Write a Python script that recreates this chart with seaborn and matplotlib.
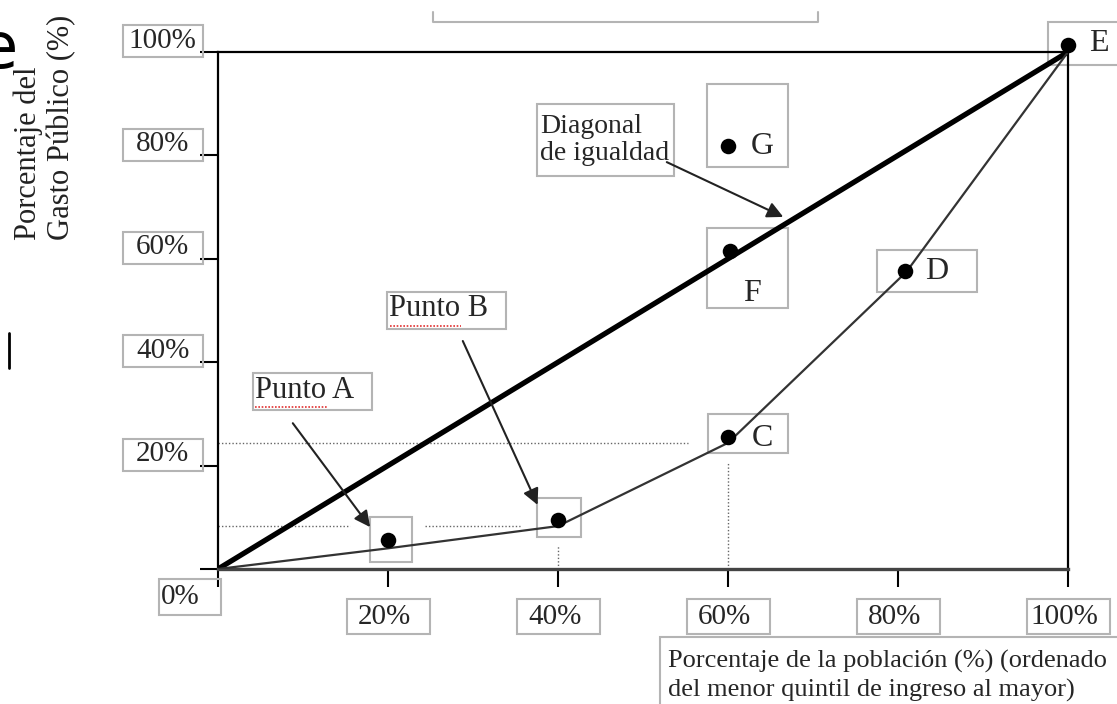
import numpy as np
import seaborn as sns
import matplotlib.pyplot as plt
from matplotlib.patches import Rectangle
from matplotlib.lines import Line2D

# Concentration curve of public spending by income quintile
quintiles = [0.0, 0.2, 0.4, 0.6, 0.81, 1.0]
curve_share = [0.0, 0.04, 0.083, 0.244, 0.575, 1.0]
diag_x = [0.0, 1.0]
diag_y = [0.0, 1.0]

# Marked points
point_names = ["A", "B", "C", "D", "E", "F", "G"]
point_x = [0.20, 0.40, 0.60, 0.808, 1.0, 0.602, 0.60]
point_y = [0.056, 0.095, 0.255, 0.576, 1.013, 0.615, 0.818]

ticks = [0.0, 0.2, 0.4, 0.6, 0.8, 1.0]
tick_labels = ["0%", "20%", "40%", "60%", "80%", "100%"]

xlabel = "Porcentaje de la población (%) (ordenado\ndel menor quintil de ingreso al mayor)"
ylabel = "Porcentaje del\nGasto Público (%)"

sns.set_style("white")
plt.rcParams['font.family'] = ['Liberation Serif', 'DejaVu Serif']

W, H = 1117, 704
fig = plt.figure(figsize=(W / 100, H / 100), dpi=100)
ax = fig.add_axes([218 / W, (H - 569) / H, 850 / W, 517 / H])
ax.set_xlim(0, 1)
ax.set_ylim(0, 1)

box_col = "#b4b4b4"


def box(x0, y0, x1, y1, transform=None):
    r = Rectangle((x0, y0), x1 - x0, y1 - y0, fill=False, ec=box_col, lw=1.5,
                  transform=transform or ax.transData, clip_on=False, zorder=1)
    ax.add_patch(r)


# reference dotted lines
dot_kw = dict(color="#666666", lw=1, ls=(0, (1, 1.5)), zorder=1)
ax.plot([0, 0.553], [curve_share[3]] * 2, **dot_kw)
ax.plot([0, 0.155], [curve_share[2]] * 2, **dot_kw)
ax.plot([0.244, 0.355], [curve_share[2]] * 2, **dot_kw)
ax.plot([quintiles[2]] * 2, [0, 0.044], **dot_kw)
ax.plot([quintiles[3]] * 2, [0, 0.205], **dot_kw)

# lines and points
sns.lineplot(x=diag_x, y=diag_y, ax=ax, color="black", lw=3.8, zorder=3)
sns.lineplot(x=quintiles, y=curve_share, ax=ax, color="#333333", lw=1.6, zorder=3)
sns.scatterplot(x=point_x, y=point_y, ax=ax, color="black", s=125, linewidth=0,
                zorder=5, clip_on=False)

# boxes around points
box(0.179, 0.0135, 0.228, 0.1006)
box(0.375, 0.062, 0.427, 0.137)
box(0.576, 0.224, 0.671, 0.300)
box(0.775, 0.536, 0.893, 0.617)
box(0.976, 0.975, 1.10, 1.058)
box(0.575, 0.505, 0.671, 0.660)
box(0.575, 0.778, 0.671, 0.938)

# point letters
let_kw = dict(fontsize=23, ha="center", va="center", zorder=6)
ax.text(0.640, point_y[2] - 0.002, "C", **let_kw)
ax.text(0.846, point_y[3], "D", **let_kw)
ax.text(1.036, point_y[4] + 0.004, "E", **let_kw, clip_on=False)
ax.text(0.628, 0.532, "F", **let_kw)
ax.text(0.640, point_y[6], "G", **let_kw)

# callouts
box(0.041, 0.308, 0.181, 0.379)
ax.text(0.043, 0.346, "Punto A", fontsize=22, ha="left", va="center")
box(0.199, 0.464, 0.339, 0.536)
ax.text(0.201, 0.503, "Punto B", fontsize=22, ha="left", va="center")
box(0.375, 0.760, 0.536, 0.899)
ax.text(0.379, 0.830, "Diagonal\nde igualdad", fontsize=20, ha="left", va="center",
        linespacing=1.1)
# spell-check squiggles
ax.plot([0.044, 0.128], [0.314, 0.314], color="#e03030", lw=1.2, ls=(0, (1, 1)))
ax.plot([0.202, 0.286], [0.470, 0.470], color="#e03030", lw=1.2, ls=(0, (1, 1)))

arrow_kw = dict(arrowstyle="-|>", color="#222222", lw=1.5, mutation_scale=24,
                shrinkA=0, shrinkB=0)
ax.annotate("", xy=(0.179, 0.081), xytext=(0.088, 0.282), arrowprops=arrow_kw)
ax.annotate("", xy=(0.376, 0.124), xytext=(0.288, 0.441), arrowprops=arrow_kw)
ax.annotate("", xy=(0.665, 0.681), xytext=(0.528, 0.787), arrowprops=arrow_kw)

# axes frame and ticks
for side in ["left", "right", "top"]:
    ax.spines[side].set_color("black")
    ax.spines[side].set_linewidth(1.6)
ax.spines["bottom"].set_color("#444444")
ax.spines["bottom"].set_linewidth(2.4)
ax.set_xticks(ticks)
ax.set_yticks(ticks)
ax.tick_params(direction="out", length=13, width=1.5, color="black",
               labelleft=False, labelbottom=False, left=True, bottom=True)
ax.set_xlabel("")
ax.set_ylabel("")

# tick label boxes
ytr = ax.get_yaxis_transform()
xtr = ax.get_xaxis_transform()
for t, lab in zip(ticks[1:], tick_labels[1:]):
    box(-0.112, t - 0.010, -0.018, t + 0.052, transform=ytr)
    ax.text(-0.065, t + 0.022, lab, transform=ytr, fontsize=21, ha="center",
            va="center")
    box(t - 0.048, -0.126, t + 0.049, -0.058, transform=xtr)
    ax.text(t - 0.004, -0.093, lab, transform=xtr, fontsize=21, ha="center",
            va="center")
box(-0.069, -0.089, 0.0035, -0.019)
ax.text(-0.067, -0.054, tick_labels[0], fontsize=21, ha="left", va="center")

# axis titles
box(0.52, -0.40, 1.12, -0.1315, transform=ax.transAxes)
ax.text(0.529, -0.207, xlabel, transform=ax.transAxes, fontsize=19, ha="left",
        va="center", linespacing=1.3)
ax.text(-0.2035, 0.636, ylabel, transform=ax.transAxes, fontsize=22, ha="left",
        va="center", rotation=90, rotation_mode="anchor", linespacing=1.2,
        color="#222222")

# stray fragments from the source slide
fig.text(-22 / W, 1 - 68 / H, "e", fontsize=46, family="DejaVu Sans", color="black")
fig.add_artist(Line2D([8.5 / W, 8.5 / W], [1 - 333 / H, 1 - 368 / H],
                      color="black", lw=2, transform=fig.transFigure))
fig.add_artist(Line2D([433 / W, 433 / W, 818 / W, 818 / W],
                      [1 - 12 / H, 1 - 22 / H, 1 - 22 / H, 1 - 12 / H],
                      color=box_col, lw=1.5, transform=fig.transFigure))

fig.savefig("out.png", dpi=100)
